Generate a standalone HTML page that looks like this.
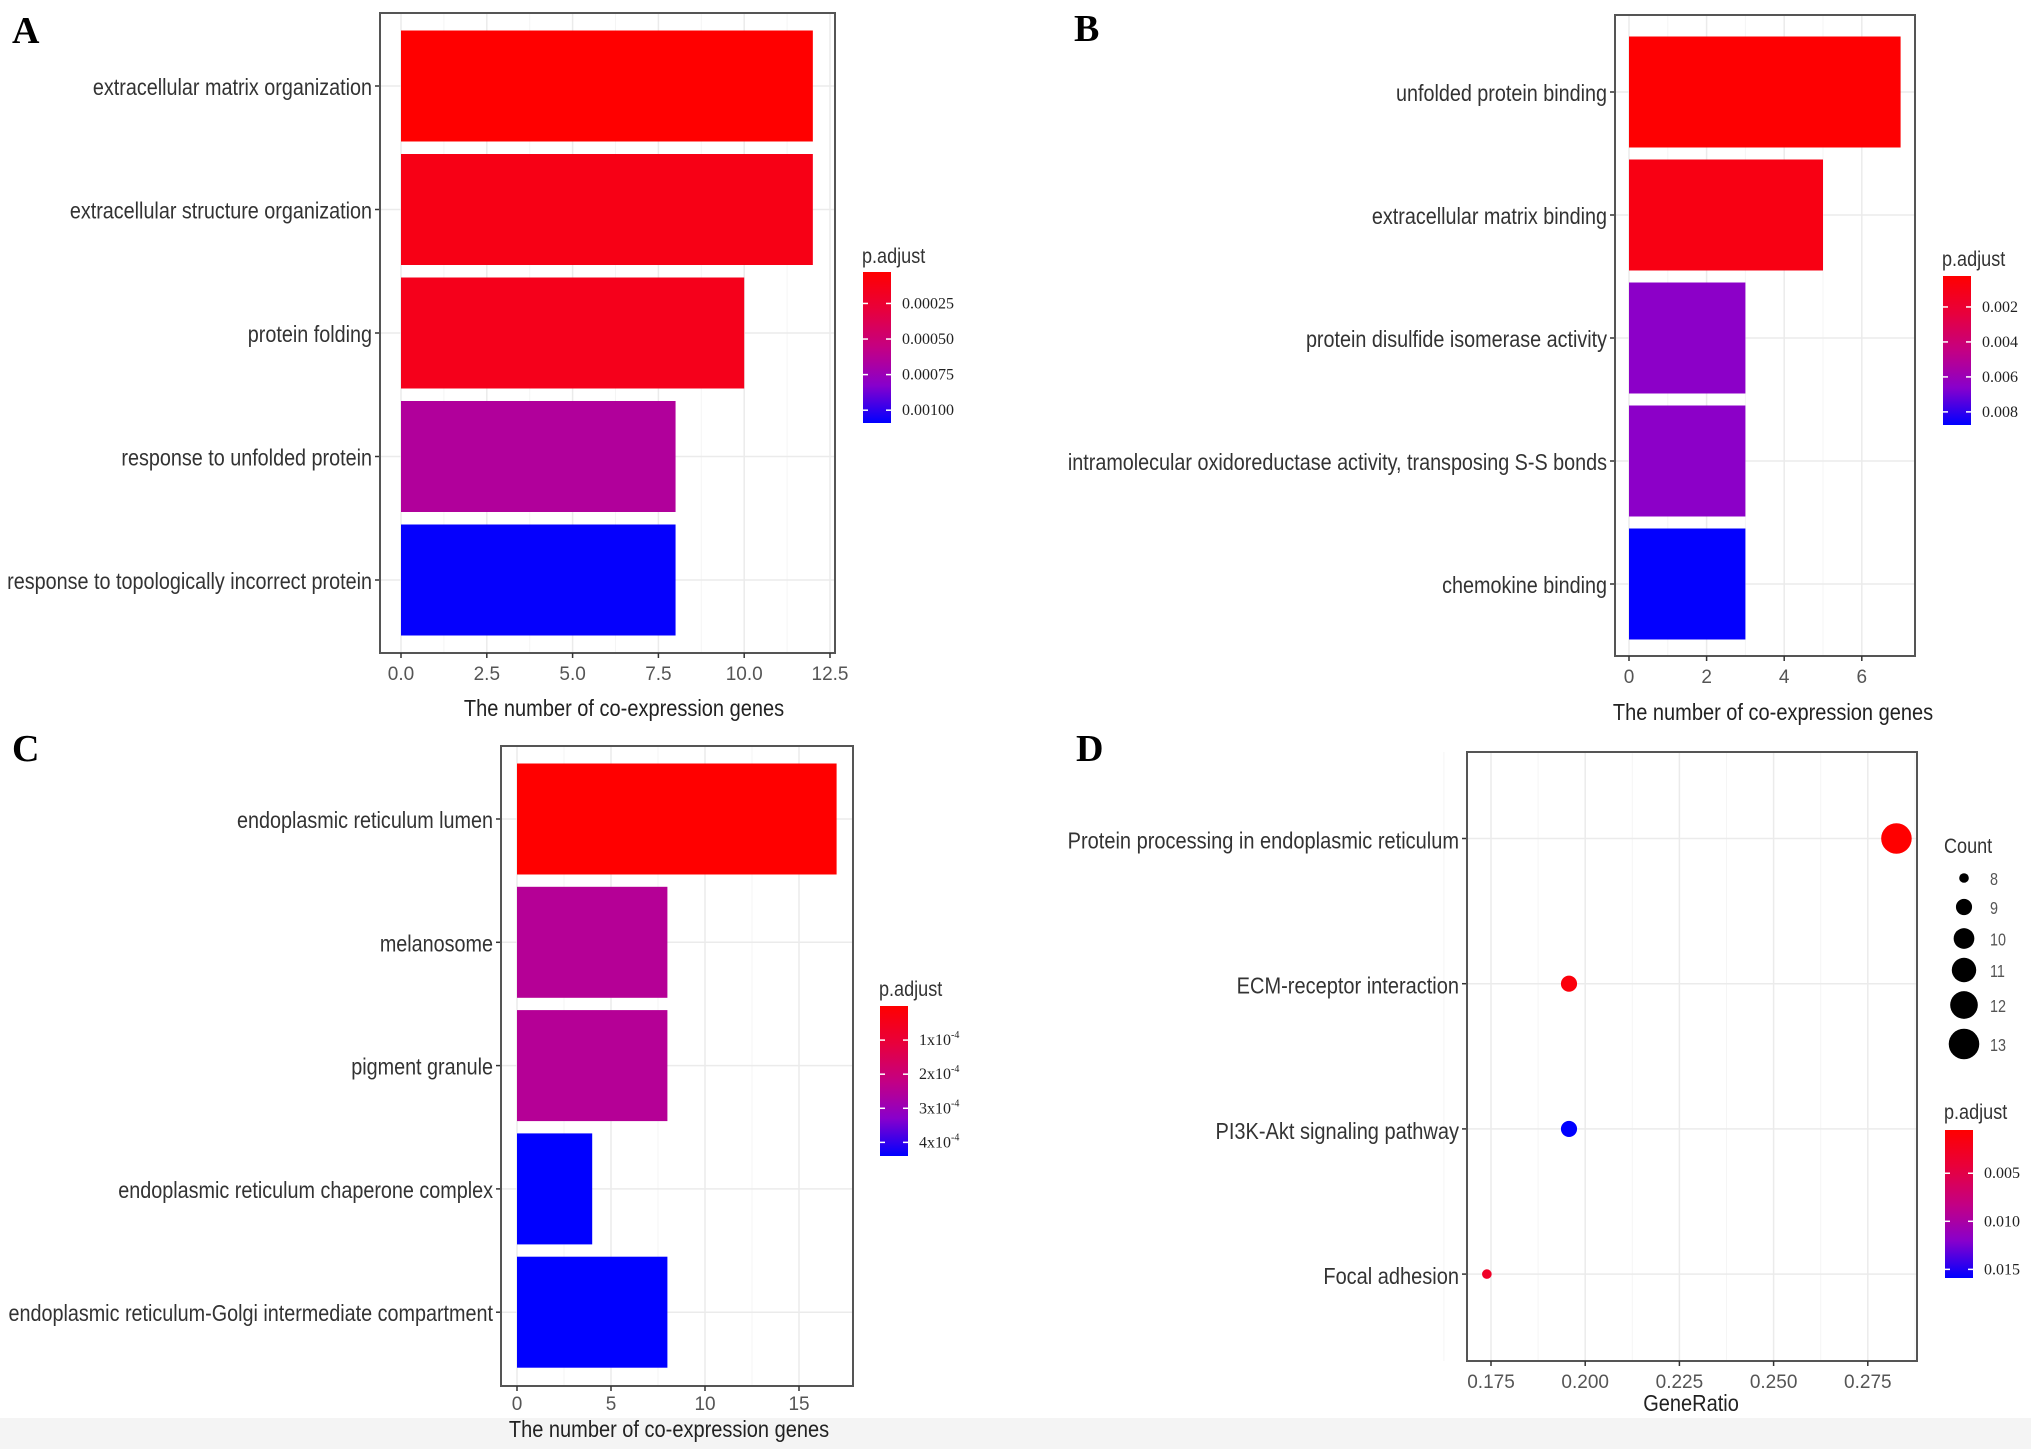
<!DOCTYPE html>
<html><head><meta charset="utf-8"><style>
html,body{margin:0;padding:0;background:#fff;}
svg{display:block;}
text{font-family:"Liberation Sans",sans-serif;}
.lbl{font-size:23px;fill:#333;}
.leg{font-size:21px;fill:#333;}
.tick{font-size:19px;fill:#555;}
.ttl{font-size:23px;fill:#222;}
.ser{font-family:"Liberation Serif",serif;font-size:16px;fill:#222;}
.panel{font-family:"Liberation Serif",serif;font-weight:bold;font-size:38px;fill:#000;}
</style></head><body>
<svg id="fig" width="2031" height="1449" viewBox="0 0 2031 1449" xmlns="http://www.w3.org/2000/svg">
<rect x="0" y="0" width="2031" height="1449" fill="#fff"/>
<rect x="0" y="1418" width="2031" height="31" fill="#f4f4f4"/>
</svg>
<script>
// Panel A data
const catA = ["extracellular matrix organization","extracellular structure organization","protein folding","response to unfolded protein","response to topologically incorrect protein"];
const valA = [12,12,10,8,8];
const pA = [0.00001,0.00012,0.00015,0.00065,0.00108];
const ticksA = [0,2.5,5,7.5,10,12.5];
const tickLabA = ["0.0","2.5","5.0","7.5","10.0","12.5"];
const legTickA = [0.00025,0.0005,0.00075,0.001];
const legLabA = ["0.00025","0.00050","0.00075","0.00100"];
// Panel B data
const catB = ["unfolded protein binding","extracellular matrix binding","protein disulfide isomerase activity","intramolecular oxidoreductase activity, transposing S-S bonds","chemokine binding"];
const valB = [7,5,3,3,3];
const pB = [0.0003,0.0009,0.0065,0.0065,0.0087];
const ticksB = [0,2,4,6];
const tickLabB = ["0","2","4","6"];
const legTickB = [0.002,0.004,0.006,0.008];
const legLabB = ["0.002","0.004","0.006","0.008"];
// Panel C data
const catC = ["endoplasmic reticulum lumen","melanosome","pigment granule","endoplasmic reticulum chaperone complex","endoplasmic reticulum-Golgi intermediate compartment"];
const valC = [17,8,8,4,8];
const pC = [0.0000,0.00025,0.00025,0.00044,0.00044];
const ticksC = [0,5,10,15];
const tickLabC = ["0","5","10","15"];
const legTickC = [0.0001,0.0002,0.0003,0.0004];
const legLabC = ["1x10","2x10","3x10","4x10"];
// Panel D data
const catD = ["Protein processing in endoplasmic reticulum","ECM-receptor interaction","PI3K-Akt signaling pathway","Focal adhesion"];
const ratioD = [0.2826,0.1957,0.1957,0.1739];
const countD = [13,9,9,8];
const pD = [0.0005,0.0012,0.0159,0.003];
const ticksD = [0.175,0.2,0.225,0.25,0.275];
const tickLabD = ["0.175","0.200","0.225","0.250","0.275"];
const legCounts = [8,9,10,11,12,13];
const legTickD = [0.005,0.01,0.015];
const legLabD = ["0.005","0.010","0.015"];

const NS="http://www.w3.org/2000/svg";
const svg=document.getElementById('fig');
function mk(tag,attrs,parent){const e=document.createElementNS(NS,tag);for(const k in attrs)e.setAttribute(k,attrs[k]);(parent||svg).appendChild(e);return e;}
const stops=[[0,[255,0,0]],[0.25,[232,0,60]],[0.5,[196,0,131]],[0.6,[174,0,159]],[0.75,[136,0,204]],[1,[0,0,255]]];
function colT(t){t=Math.max(0,Math.min(1,t));for(let i=1;i<stops.length;i++){if(t<=stops[i][0]){const a=stops[i-1],b=stops[i];const f=(t-a[0])/(b[0]-a[0]);const c=a[1].map((v,j)=>Math.round(v+(b[1][j]-v)*f));return `rgb(${c[0]},${c[1]},${c[2]})`;}}return 'rgb(0,0,255)';}
let gid=0;
function colorbar(g,x,y0,y1,w,pmin,pmax,ticks,labs,labX,sup){
  const id='grad'+(gid++);
  const defs=mk('defs',{},g);const lg=mk('linearGradient',{id:id,x1:0,y1:0,x2:0,y2:1},defs);
  stops.forEach(s=>mk('stop',{offset:s[0],'stop-color':colT(s[0])},lg));
  const r=mk('rect',{x:x,y:y0,width:w,height:y1-y0,fill:`url(#${id})`},g);
  
  
  const py=p=>y0+(p-pmin)/(pmax-pmin)*(y1-y0);
  ticks.forEach((p,i)=>{const yy=py(p);
    mk('line',{x1:x,x2:x+5,y1:yy,y2:yy,stroke:'#fff','stroke-width':1.5},g);
    mk('line',{x1:x+w-5,x2:x+w,y1:yy,y2:yy,stroke:'#fff','stroke-width':1.5},g);
    const t=mk('text',{x:labX,y:yy+5,class:'ser'},g);t.textContent=labs[i];
    if(sup){const s=mk('tspan',{dy:-7,'font-size':10},t);s.textContent='-4';}
    
    });
}
function sqText(g,x,y,str,cls,sx,anchor){
  const t=mk('text',{transform:`translate(${x},${y}) scale(${sx},1)`,class:cls,'text-anchor':anchor||'end'},g);t.textContent=str;return t;}
function barPanel(o){
  const g=mk('g',{});
  const xs=v=>o.x0+v*o.k;
  for(let i=0;i<o.ticks.length;i++){const xx=xs(o.ticks[i]);mk('line',{x1:xx,x2:xx,y1:o.fy0,y2:o.fy1,stroke:'#ebebeb','stroke-width':1.5},g);
    if(i<o.ticks.length-1){const xm=xs((o.ticks[i]+o.ticks[i+1])/2);mk('line',{x1:xm,x2:xm,y1:o.fy0,y2:o.fy1,stroke:'#f5f5f5','stroke-width':1},g);}}
  o.cats.forEach((c,i)=>{const yy=o.cy0+i*o.dy;mk('line',{x1:o.fx0,x2:o.fx1,y1:yy,y2:yy,stroke:'#ebebeb','stroke-width':1.5},g);});
  o.cats.forEach((c,i)=>{const yy=o.cy0+i*o.dy;
    const b=mk('rect',{x:xs(0),y:yy-o.bh/2,width:xs(o.vals[i])-xs(0),height:o.bh,fill:colT((o.ps[i]-o.pmin)/(o.pmax-o.pmin))},g);
    
    
    mk('line',{x1:o.fx0-5,x2:o.fx0,y1:yy,y2:yy,stroke:'#333','stroke-width':1.5},g);
    const t=sqText(g,o.fx0-8,yy+9,c,'lbl',0.86);
    
    });
  mk('rect',{x:o.fx0,y:o.fy0,width:o.fx1-o.fx0,height:o.fy1-o.fy0,fill:'none',stroke:'#555','stroke-width':2},g);
  o.ticks.forEach((v,i)=>{const xx=xs(v);mk('line',{x1:xx,x2:xx,y1:o.fy1,y2:o.fy1+5,stroke:'#333','stroke-width':1.5},g);
    const t=sqText(g,xx,o.tickY,o.labs[i],'tick',1,'middle');
    
    });
  const tt=sqText(g,o.titleX,o.titleY,o.title,'ttl',0.87,'middle');
  
  
  const lt=sqText(g,o.legX,o.legTY,'p.adjust','leg',0.86,'start');
  
  
  colorbar(g,o.legX+1,o.cb0,o.cb1,28,o.pmin,o.pmax,o.legT,o.legL,o.legX+40,o.sup);
  const pl=mk('text',{x:o.px,y:o.py,class:'panel'},g);pl.textContent=o.letter;
  
  
}
barPanel({name:'panel-a',letter:'A',px:12,py:43,cats:catA,vals:valA,ps:pA,ticks:ticksA,labs:tickLabA,x0:401,k:34.32,fx0:380,fx1:835,fy0:13,fy1:653,cy0:86,dy:123.5,bh:111,tickY:680,title:'The number of co-expression genes',titleX:624,titleY:716,legX:862,legTY:263,cb0:272,cb1:423,pmin:0.000029,pmax:0.00109,legT:legTickA,legL:legLabA});
barPanel({name:'panel-b',letter:'B',px:1074,py:41,cats:catB,vals:valB,ps:pB,ticks:ticksB,labs:tickLabB,x0:1629,k:38.8,fx0:1615,fx1:1915,fy0:15,fy1:656,cy0:92,dy:123,bh:111,tickY:683,title:'The number of co-expression genes',titleX:1773,titleY:720,legX:1942,legTY:266,cb0:276,cb1:425,pmin:0.00023,pmax:0.00875,legT:legTickB,legL:legLabB});
barPanel({name:'panel-c',letter:'C',px:12,py:761,cats:catC,vals:valC,ps:pC,ticks:ticksC,labs:tickLabC,x0:517,k:18.8,fx0:501,fx1:853,fy0:746,fy1:1386,cy0:819,dy:123.3,bh:111,tickY:1410,title:'The number of co-expression genes',titleX:669,titleY:1437,legX:879,legTY:996,cb0:1006,cb1:1156,pmin:0,pmax:0.00044,legT:legTickC,legL:legLabC,sup:true});
// Panel D
(function(){
  const g=mk('g',{});
  const fx0=1467,fx1=1917,fy0=752,fy1=1361,cy0=838.5,dy=145.2;
  const xs=v=>1491+(v-0.175)*3768;
  const rs=c=>Math.sqrt(42*(c-7.45));
  const pmin=0.0005,pmax=0.0159;
  ticksD.forEach((v,i)=>{const xx=xs(v);mk('line',{x1:xx,x2:xx,y1:fy0,y2:fy1,stroke:'#ebebeb','stroke-width':1.5},g);
    const xm=xs(v+0.0125);if(xm<fx1)mk('line',{x1:xm,x2:xm,y1:fy0,y2:fy1,stroke:'#f5f5f5','stroke-width':1},g);});
  {const xm=xs(0.1625);mk('line',{x1:xm,x2:xm,y1:fy0,y2:fy1,stroke:'#f5f5f5','stroke-width':1},g);}
  catD.forEach((c,i)=>{const yy=cy0+i*dy;mk('line',{x1:fx0,x2:fx1,y1:yy,y2:yy,stroke:'#ebebeb','stroke-width':1.5},g);});
  catD.forEach((c,i)=>{const yy=cy0+i*dy;
    const d=mk('circle',{cx:xs(ratioD[i]),cy:yy,r:rs(countD[i]),fill:colT((pD[i]-pmin)/(pmax-pmin))},g);
    
    
    mk('line',{x1:fx0-5,x2:fx0,y1:yy,y2:yy,stroke:'#333','stroke-width':1.5},g);
    const t=sqText(g,fx0-8,yy+10,c,'lbl',0.87);
    
    });
  mk('rect',{x:fx0,y:fy0,width:fx1-fx0,height:fy1-fy0,fill:'none',stroke:'#555','stroke-width':2},g);
  ticksD.forEach((v,i)=>{const xx=xs(v);mk('line',{x1:xx,x2:xx,y1:fy1,y2:fy1+5,stroke:'#333','stroke-width':1.5},g);
    const t=sqText(g,xx,1388,tickLabD[i],'tick',1,'middle');
    
    });
  const tt=sqText(g,1691,1411,'GeneRatio','ttl',0.87,'middle');
  
  
  const ct=sqText(g,1944,853,'Count','leg',0.86,'start');
  
  
  const legY=[878,907,938.5,970,1005,1044];
  legCounts.forEach((c,i)=>{
    const k=mk('circle',{cx:1964,cy:legY[i],r:rs(c),fill:'#000'},g);
    
    
    const t=sqText(g,1990,legY[i]+7,String(c),'tick',0.8,'start');t.setAttribute('style','font-size:18px');
    
    });
  const lt=sqText(g,1944,1119,'p.adjust','leg',0.86,'start');
  
  
  colorbar(g,1945,1130,1278,28,pmin,pmax,legTickD,legLabD,1984,false);
  const pl=mk('text',{x:1076,y:761,class:'panel'},g);pl.textContent='D';
  
  
})();
</script>
</body></html>
